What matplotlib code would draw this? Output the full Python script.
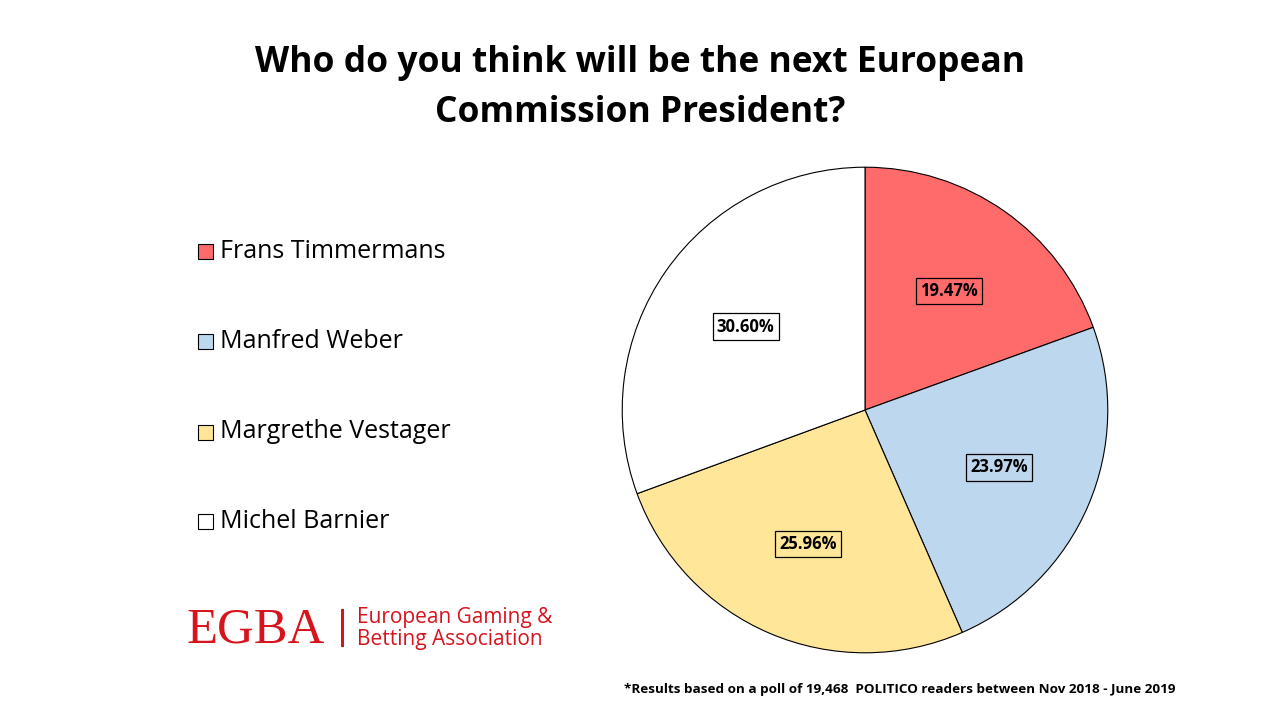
import matplotlib
matplotlib.use("Agg")
import matplotlib.pyplot as plt
from matplotlib.patches import Rectangle

# Poll data
candidates = ["Frans Timmermans", "Manfred Weber", "Margrethe Vestager", "Michel Barnier"]
shares = [19.47, 23.97, 25.96, 30.60]
colors = ["#FF6B6B", "#BDD7EE", "#FFE699", "#FFFFFF"]

chartTitle = "Who do you think will be the next European\nCommission President?"
footnote = "*Results based on a poll of 19,468  POLITICO readers between Nov 2018 - June 2019"

plt.rcParams["font.family"] = ["Open Sans", "DejaVu Sans"]


def main():
    fig = plt.figure(figsize=(12.8, 7.2), dpi=100)
    fig.patch.set_facecolor("white")

    fig.text(0.5, 1 - 88 / 720, chartTitle, ha="center", va="center",
             fontsize=25.5, fontweight="bold", linespacing=1.55)

    # pie
    ax = fig.add_axes([621 / 1280, 66 / 720, 488 / 1280, 488 / 720])
    wedges, texts, autotexts = ax.pie(
        shares, colors=colors, startangle=90, counterclock=False,
        autopct="%.2f%%", pctdistance=0.6,
        wedgeprops=dict(edgecolor="black", linewidth=0.8))
    for t, c in zip(autotexts, colors):
        t.set_fontsize(12)
        t.set_fontweight("bold")
        t.set_bbox(dict(facecolor=c, edgecolor="black", linewidth=0.9, pad=3))
    ax.set_xlim(-1.005, 1.005)
    ax.set_ylim(-1.005, 1.005)
    ax.set_aspect("equal")
    ax.axis("off")

    # legend on the left
    ys = [252, 342, 432, 521]
    for name, c, y in zip(candidates, colors, ys):
        fy = 1 - y / 720
        fig.patches.append(Rectangle((198 / 1280, fy - 7.5 / 720), 15 / 1280, 15 / 720,
                                     transform=fig.transFigure, facecolor=c,
                                     edgecolor="black", linewidth=0.8))
        fig.text(220 / 1280, fy, name, ha="left", va="center", fontsize=18)

    # logo
    red = "#D7141E"
    fig.text(186 / 1280, 1 - 630 / 720, "EGBA", ha="left", va="center",
             fontsize=36.5, color=red, family="Liberation Serif")
    fig.patches.append(Rectangle((341 / 1280, 1 - 647 / 720), 2.5 / 1280, 38 / 720,
                                 transform=fig.transFigure, facecolor=red, edgecolor="none"))
    fig.text(357 / 1280, 1 - 617 / 720, "European Gaming &", ha="left", va="center",
             fontsize=15, color=red)
    fig.text(357 / 1280, 1 - 640 / 720, "Betting Association", ha="left", va="center",
             fontsize=15, color=red)

    fig.text(1175 / 1280, 1 - 689 / 720, footnote, ha="right", va="center",
             fontsize=9.7, fontweight="bold")

    fig.savefig("out.png", dpi=100)


main()
